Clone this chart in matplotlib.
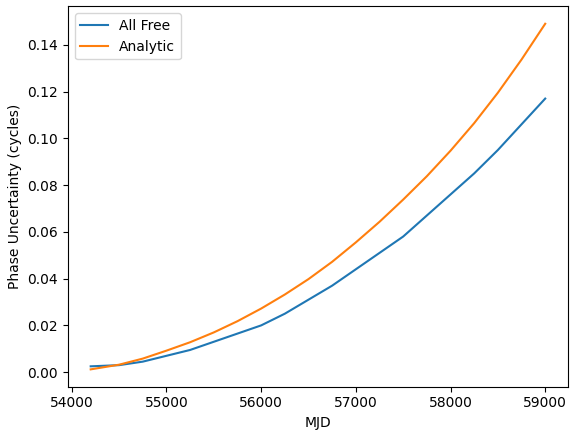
import matplotlib
matplotlib.use("Agg")
import matplotlib.pyplot as plt

# MJD grid and phase uncertainty
mjd = [54200, 54500, 54750, 55000, 55250, 55500, 55750, 56000, 56250, 56500,
       56750, 57000, 57250, 57500, 57750, 58000, 58250, 58500, 58750, 59000]
all_free = [0.0025, 0.003, 0.0045, 0.007, 0.0095, 0.013, 0.0165, 0.020, 0.025, 0.031,
            0.037, 0.044, 0.051, 0.058, 0.067, 0.076, 0.085, 0.095, 0.106, 0.117]
analytic = [0.0012, 0.0032, 0.0058, 0.0092, 0.0128, 0.017, 0.0218, 0.0272, 0.0332, 0.0398,
            0.0472, 0.0555, 0.0643, 0.0738, 0.0838, 0.0947, 0.1065, 0.1195, 0.1337, 0.1490]

fig, ax = plt.subplots(figsize=(5.76, 4.32), dpi=100)
fig.subplots_adjust(left=0.118, right=0.986, top=0.985, bottom=0.105)
ax.plot(mjd, all_free, label="All Free")
ax.plot(mjd, analytic, label="Analytic")
ax.set_xlabel("MJD")
ax.set_ylabel("Phase Uncertainty (cycles)")
ax.legend(loc="upper left")
fig.savefig("out.png")
